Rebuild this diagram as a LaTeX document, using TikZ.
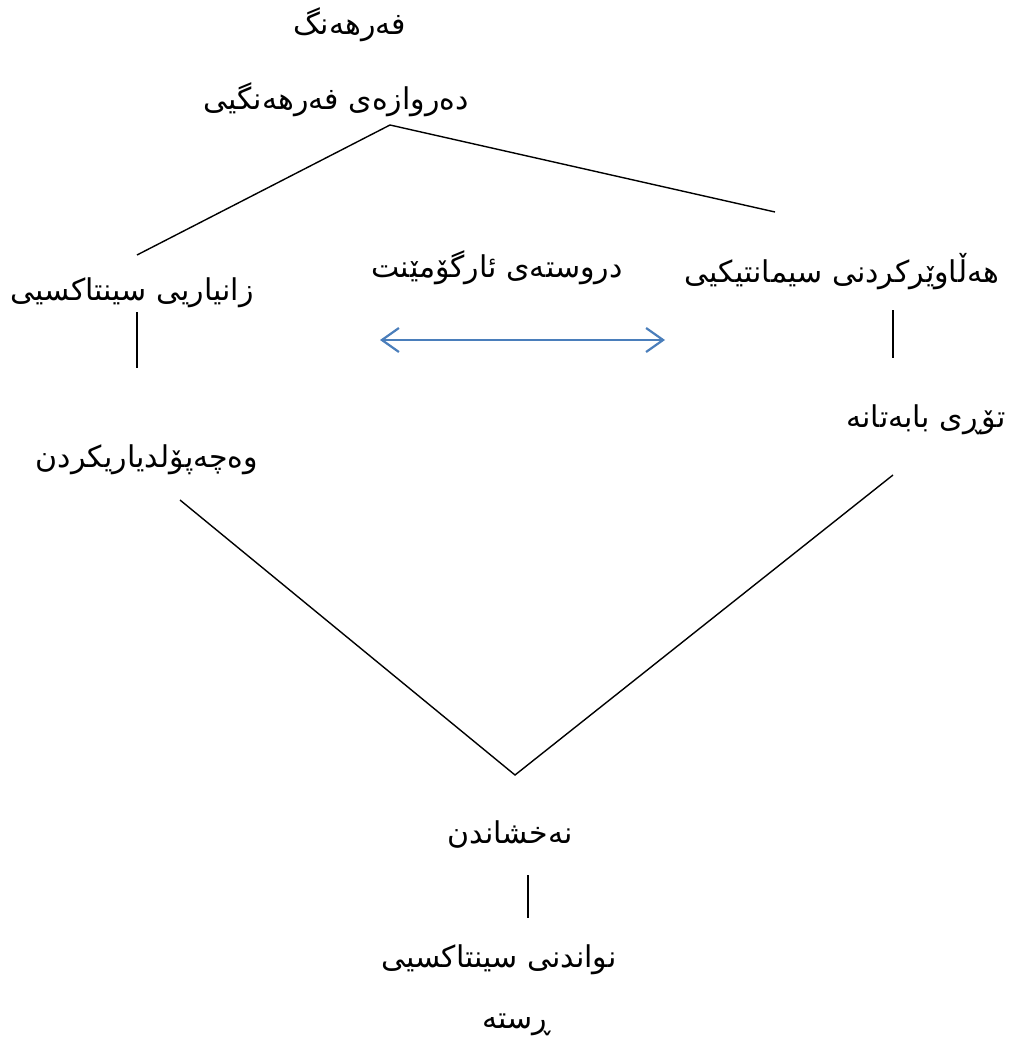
\documentclass[tikz,border=0pt]{standalone}
\usepackage{fontspec}
\newfontfamily\arabicfont[Script=Arabic]{DejaVu Sans}
\TeXXeTstate=1
\usetikzlibrary{arrows.meta}
\definecolor{linkblue}{HTML}{4A7EBB}
\tikzset{
  term/.style={font=\arabicfont\fontsize{30}{35}\selectfont,inner sep=0pt},
  link/.style={draw=black,line width=1.4pt},
  twoway/.style={draw=linkblue,line width=2.2pt,{Straight Barb[length=17pt,width=24pt]}-{Straight Barb[length=17pt,width=24pt]}}
}
\newcommand{\rtl}[1]{\beginR #1\endR}
\begin{document}
\begin{tikzpicture}[x=1pt,y=-1pt]

    % -- Page frame (pixel grid of the reference) --
    \useasboundingbox (0,0) rectangle (1018,1051);

    % -- Text of the chart --
    \node[term] (lexicon)   at (350,25)   {\rtl{فەرهەنگ}};
    \node[term] (entry)     at (336,100)  {\rtl{دەروازەی فەرهەنگیی}};
    \node[term] (synknow)   at (132,293)  {\rtl{زانیاریی سینتاکسیی}};
    \node[term] (argstruct) at (497,268)  {\rtl{دروستەی ئارگۆمێنت}};
    \node[term] (semsel)    at (842,272)  {\rtl{هەڵاوێرکردنی سیمانتیکیی}};
    \node[term] (subcat)    at (147,460)  {\rtl{وەچەپۆلدیاریکردن}};
    \node[term] (thematic)  at (926,420)  {\rtl{تۆڕی بابەتانە}};
    \node[term] (mapping)   at (510,835)  {\rtl{نەخشاندن}};
    \node[term] (synrep)    at (499,960)  {\rtl{نواندنی سینتاکسیی}};
    \node[term] (sentence)  at (517,1025) {\rtl{ڕستە}};

    % -- Free ends of the lines --
    \coordinate (top)    at (390,125);
    \coordinate (topL)   at (137,255);
    \coordinate (topR)   at (775,212);
    \coordinate (synA)   at (137,312);
    \coordinate (synB)   at (137,368);
    \coordinate (semA)   at (893,310);
    \coordinate (semB)   at (893,358);
    \coordinate (arrL)   at (380,340);
    \coordinate (arrR)   at (665,340);
    \coordinate (vL)     at (180,500);
    \coordinate (vbot)   at (515,775);
    \coordinate (vR)     at (893,475);
    \coordinate (mapA)   at (528,875);
    \coordinate (mapB)   at (528,918);

    % -- Branches under the lexical entry --
    \draw[link] (topL) -- (top) -- (topR);

    % -- Short vertical ticks --
    \draw[link] (synA) -- (synB);
    \draw[link] (semA) -- (semB);
    \draw[link] (mapA) -- (mapB);

    % -- Two-way arrow between the branches --
    \draw[twoway] (arrL) -- (arrR);

    % -- The V joining both sides --
    \draw[link] (vL) -- (vbot) -- (vR);

\end{tikzpicture}
\end{document}
